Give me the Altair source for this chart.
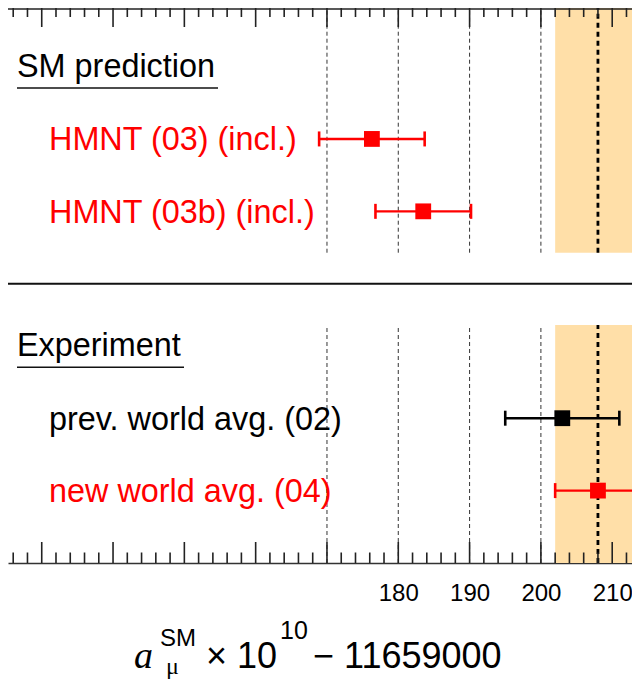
import altair as alt
import pandas as pd

# ---- data ----
labels = ["HMNT (03) (incl.)", "HMNT (03b) (incl.)", "prev. world avg. (02)", "new world avg. (04)"]
groups = ["SM prediction", "SM prediction", "Experiment", "Experiment"]
values = [176.3, 183.5, 203.0, 208.0]
errors = [7.4, 6.7, 8.0, 6.0]
colors = ["#FF0000", "#FF0000", "#000000", "#FF0000"]
headers = ["SM prediction", "Experiment"]
grid_values = [170, 180, 190, 200]
tick_labels = [180, 190, 200, 210]
major_ticks = [130, 140, 150, 160, 170, 180, 190, 200, 210]
minor_ticks = [126, 128, 132, 134, 136, 138, 142, 144, 146, 148, 152, 154, 156, 158,
               162, 164, 166, 168, 172, 174, 176, 178, 182, 184, 186, 188, 192, 194,
               196, 198, 202, 204, 206, 208, 212]
band_index = 3  # world average band (new world avg.)

# ---- layout ----
W, H = 624, 555
PX_PER_UNIT = 7.131
X_MIN = 125.27
UNIT = 10.343
YMAX = H / UNIT
panel_base = {"SM prediction": 27, "Experiment": 0}
segments = [(30, YMAX), (0, 23)]

xscale = alt.Scale(domain=[X_MIN, X_MIN + W / PX_PER_UNIT], nice=False, zero=False)
yscale = alt.Scale(domain=[0, YMAX], nice=False, zero=False)
xaxis = alt.Axis(values=tick_labels, title=None, grid=False, ticks=False, tickSize=0,
                 labelFont="Liberation Sans", labelFontSize=24, labelColor="#000",
                 labelPadding=18, labelFlush=False, labelBound=False,
                 domain=True, domainColor="#333", domainWidth=1.5)

def X(f):
    return alt.X(f, type="quantitative", scale=xscale, axis=xaxis)

def Y(f):
    return alt.Y(f, type="quantitative", scale=yscale, axis=None)

rows = []
count = {}
for lab, g, v, e, c in zip(labels, groups, values, errors, colors):
    k = count.get(g, 0)
    count[g] = k + 1
    rows.append({"label": lab, "v": v, "lo": v - e, "hi": v + e, "c": c,
                 "r": panel_base[g] + 14 - 7 * k})
pts = pd.DataFrame(rows)

hdr = pd.DataFrame({"label": headers, "r": [panel_base[h] + 21 for h in headers]})

bc, be = values[band_index], errors[band_index]
band = pd.DataFrame([{"lo": bc - be, "hi": bc + be, "y0": a, "y1": b} for a, b in segments])
grid = pd.DataFrame([{"v": g, "y0": a, "y1": b} for g in grid_values for a, b in segments])
cline = pd.DataFrame([{"v": bc, "y0": a, "y1": b} for a, b in segments])
maj = pd.DataFrame({"v": major_ticks})
mino = pd.DataFrame({"v": minor_ticks})
sep = pd.DataFrame({"r": [27]})
one = pd.DataFrame({"t": [""]})

layers = []
layers.append(alt.Chart(band).mark_rect(color="#FFDFA8", clip=True).encode(
    x=X("lo"), x2="hi", y=Y("y0"), y2="y1"))
layers.append(alt.Chart(grid).mark_rule(color="#333", strokeWidth=1, strokeDash=[4, 3]).encode(
    x=X("v"), y=Y("y0"), y2="y1"))
layers.append(alt.Chart(cline).mark_rule(color="#000", strokeWidth=2.8, strokeDash=[5, 4]).encode(
    x=X("v"), y=Y("y0"), y2="y1"))
# frame lines
layers.append(alt.Chart(one).mark_rule(color="#222", strokeWidth=1.5).encode(
    x=alt.value(0), x2=alt.value(W), y=alt.value(1)))
layers.append(alt.Chart(sep).mark_rule(color="#111", strokeWidth=2).encode(
    x=alt.value(0), x2=alt.value(W), y=Y("r")))
# axis ticks (top and bottom, pointing inward)
layers.append(alt.Chart(maj).mark_rule(color="#222", strokeWidth=1.6).encode(
    x=X("v"), y=alt.value(0), y2=alt.value(19)))
layers.append(alt.Chart(mino).mark_rule(color="#222", strokeWidth=1.6).encode(
    x=X("v"), y=alt.value(0), y2=alt.value(9)))
layers.append(alt.Chart(maj).mark_rule(color="#222", strokeWidth=1.6).encode(
    x=X("v"), y=alt.value(H), y2=alt.value(H - 21)))
layers.append(alt.Chart(mino).mark_rule(color="#222", strokeWidth=1.6).encode(
    x=X("v"), y=alt.value(H), y2=alt.value(H - 10.5)))
# error bars
layers.append(alt.Chart(pts).mark_rule(strokeWidth=2.4).encode(
    x=X("lo"), x2="hi", y=Y("r"), color=alt.Color("c:N", scale=None)))
layers.append(alt.Chart(pts).mark_rule(strokeWidth=2.6, yOffset=-7.5, y2Offset=7.5).encode(
    x=X("lo"), y=Y("r"), y2="r", color=alt.Color("c:N", scale=None)))
layers.append(alt.Chart(pts).mark_rule(strokeWidth=2.6, yOffset=-7.5, y2Offset=7.5).encode(
    x=X("hi"), y=Y("r"), y2="r", color=alt.Color("c:N", scale=None)))
layers.append(alt.Chart(pts).mark_square(size=250, opacity=1, strokeWidth=0).encode(
    x=X("v"), y=Y("r"), color=alt.Color("c:N", scale=None)))
# labels
layers.append(alt.Chart(pts).mark_text(align="left", baseline="middle", font="Liberation Sans",
                                       fontSize=32.4, dy=1.5).encode(
    x=alt.value(41), y=Y("r"), text="label:N", color=alt.Color("c:N", scale=None)))
layers.append(alt.Chart(hdr).mark_text(align="left", baseline="middle", font="Liberation Sans",
                                       fontSize=32.4, dy=0, color="#000").encode(
    x=alt.value(9), y=Y("r"), text="label:N"))
# underlines of the headers
underline_end = {"SM prediction": 210, "Experiment": 176}
for h in headers:
    layers.append(alt.Chart(hdr[hdr.label == h]).mark_rule(color="#111", strokeWidth=1.6,
                                                           yOffset=21.5).encode(
        x=alt.value(9), x2=alt.value(underline_end[h]), y=Y("r")))

# x-axis title:  a_mu^SM x 10^10 - 11659000
def txt(s, x, y, size, font="Liberation Sans", style="normal"):
    return alt.Chart(one).mark_text(text=s, align="left", baseline="alphabetic", font=font,
                                    fontSize=size, fontStyle=style, color="#000").encode(
        x=alt.value(x), y=alt.value(y))

TB = 660  # title baseline (plot coordinates)
layers.append(txt("a", 126, TB, 38, font="Liberation Serif", style="italic"))
layers.append(txt("SM", 152, TB - 22, 24))
layers.append(txt("\u03bc", 158, TB + 6, 24, font="Liberation Serif"))
layers.append(txt("\u00d7 10", 198, TB, 36))
layers.append(txt("10", 272, TB - 29, 25))
layers.append(txt("\u2212 11659000", 305, TB, 36))

chart = alt.layer(*layers).properties(
    width=W, height=H,
    autosize=alt.AutoSizeParams(type="none"),
    padding={"left": 0, "top": 0, "right": 0, "bottom": 117},
).configure_view(stroke=None)

chart.save("out.html", embed_options={"renderer": "svg", "actions": False})
